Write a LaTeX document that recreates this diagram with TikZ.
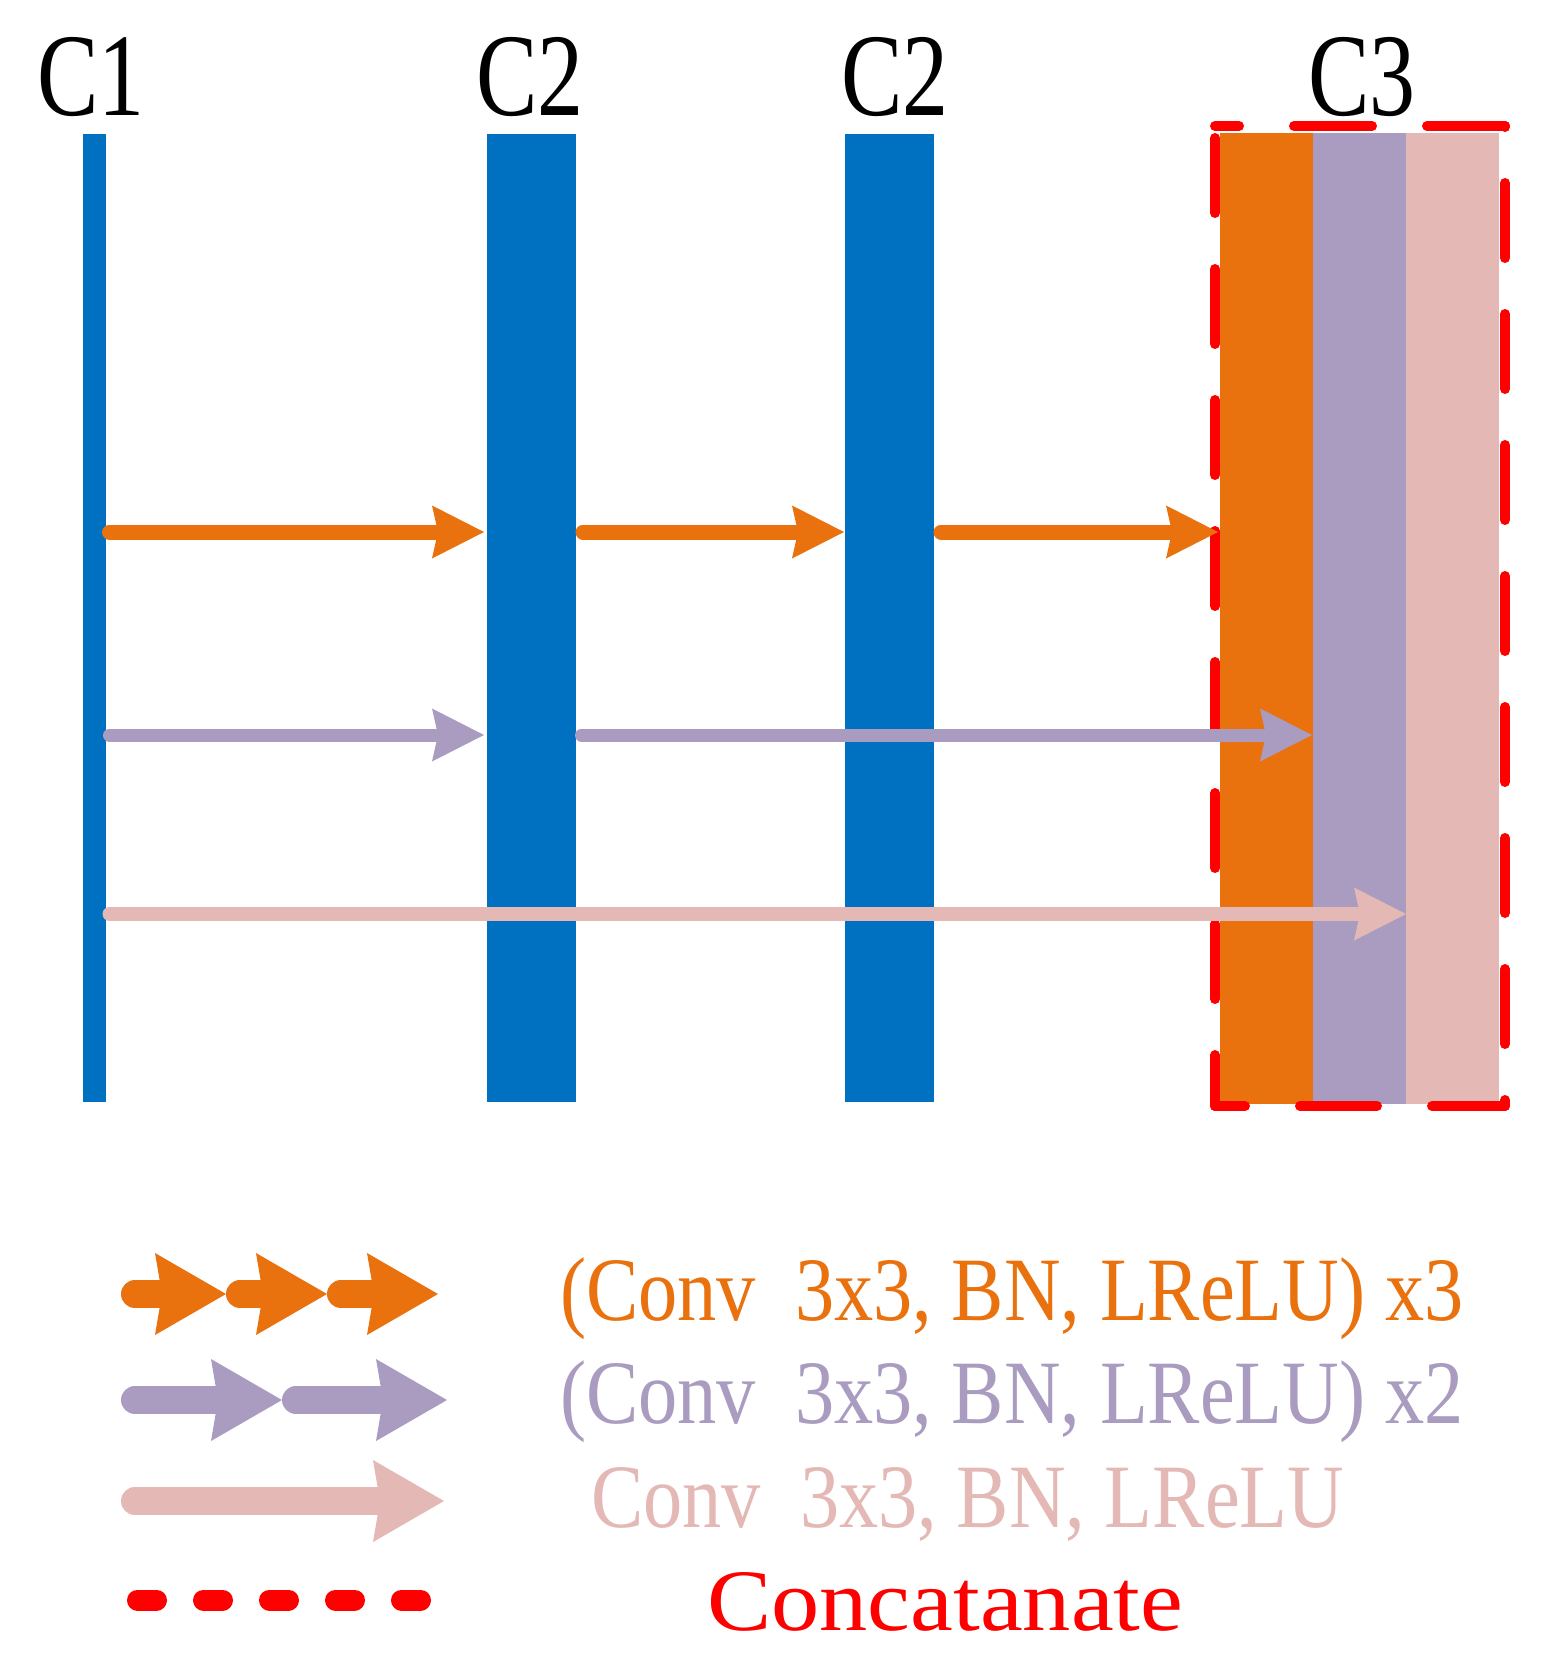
\documentclass[tikz,border=0pt]{standalone}
\usepackage{fontspec}
\setmainfont{Liberation Serif}
\newfontfamily\labfont[FakeStretch=0.78]{Liberation Serif}
\newfontfamily\legfont[FakeStretch=0.865]{Liberation Serif}
\newfontfamily\catfont[FakeStretch=1.1]{Liberation Serif}
\usetikzlibrary{arrows.meta}
\definecolor{barblue}{RGB}{0,112,192}
\definecolor{corange}{RGB}{233,113,14}
\definecolor{cpurple}{RGB}{170,156,192}
\definecolor{cpink}{RGB}{228,185,181}
\definecolor{cred}{RGB}{255,0,0}
\tikzset{
  bar/.style={rectangle, inner sep=0pt, outer sep=0pt, draw=none, fill=barblue, minimum height=968pt},
  blk/.style={rectangle, inner sep=0pt, outer sep=0pt, draw=none, minimum width=93pt, minimum height=971pt},
  conn/.style={line cap=round, -{Stealth[length=52pt,width=53pt,inset=6pt,line width=0pt]}},
  legarrow/.style={line width=28pt, line cap=round, -{Stealth[length=71pt,width=82pt,inset=7pt,line width=0pt]}},
  reddash/.style={draw=cred, line width=10pt, line cap=round},
  lab/.style={inner sep=0pt, anchor=base, font=\labfont\fontsize{118}{118}\selectfont},
  legtext/.style={inner sep=0pt, anchor=base west, font=\legfont\fontsize{90.6}{92}\selectfont},
}
\begin{document}
\begin{tikzpicture}[x=1pt,y=-1pt]
\useasboundingbox[fill=white] (0,0) rectangle (1555,1670);
% bars
\node[bar, minimum width=23pt] (c1) at (94.5,618) {};
\node[bar, minimum width=89pt] (c2a) at (531.5,618) {};
\node[bar, minimum width=89pt] (c2b) at (889.5,618) {};
% C3 block
\node[blk, fill=corange] (o3) at (1266.5,618.5) {};
\node[blk, fill=cpurple] (p3) at (1359.5,618.5) {};
\node[blk, fill=cpink] (k3) at (1452.5,618.5) {};
% dashed concatenate box
\coordinate (dTL) at (1215,126);
\coordinate (dBL) at (1215,1106);
\coordinate (dBR) at (1505,1106);
\coordinate (dTR) at (1505,126);
\draw[reddash, dash pattern=on 75pt off 56pt, dash phase=119pt] (dTL) -- (dBL);
\draw[reddash, dash pattern=on 77pt off 55pt, dash phase=47pt] (dBL) -- (dBR);
\draw[reddash, dash pattern=on 75pt off 56pt, dash phase=69pt] (dBR) -- (dTR);
\draw[reddash, dash pattern=on 78pt off 55pt, dash phase=0pt] (dTR) -- (dTL);
% labels
\node[lab] (l1) at (91,115) {C1};
\node[lab] (l2) at (530,115) {C2};
\node[lab] (l3) at (895,115) {C2};
\node[lab] (l4) at (1362,115) {C3};
% levels
\coordinate (yo) at (0,532);
\coordinate (yp) at (0,735);
\coordinate (yk) at (0,914);
% orange arrows
\draw[conn, corange, line width=15pt] ([xshift=3.5pt]c1.east |- yo) -- ([xshift=-3pt]c2a.west |- yo);
\draw[conn, corange, line width=15pt] ([xshift=7pt]c2a.east |- yo) -- ([xshift=-1pt]c2b.west |- yo);
\draw[conn, corange, line width=15pt] ([xshift=7pt]c2b.east |- yo) -- ([xshift=-2pt]o3.west |- yo);
% purple arrows
\draw[conn, cpurple, line width=13pt] ([xshift=3.5pt]c1.east |- yp) -- ([xshift=-3pt]c2a.west |- yp);
\draw[conn, cpurple, line width=13pt] ([xshift=5.5pt]c2a.east |- yp) -- ([xshift=-1pt]p3.west |- yp);
% pink arrow
\draw[conn, cpink, line width=14pt] ([xshift=3.5pt]c1.east |- yk) -- (k3.west |- yk);
% legend
\coordinate (a1) at (135,1294);
\coordinate (a2) at (226,1294);
\coordinate (a3) at (240,1294);
\coordinate (a4) at (327,1294);
\coordinate (a5) at (341,1294);
\coordinate (a6) at (438,1294);
\draw[legarrow, corange] (a1) -- (a2);
\draw[legarrow, corange] (a3) -- (a4);
\draw[legarrow, corange] (a5) -- (a6);
\coordinate (b1) at (135,1400);
\coordinate (b2) at (282,1400);
\coordinate (b3) at (296,1400);
\coordinate (b4) at (447,1400);
\draw[legarrow, cpurple] (b1) -- (b2);
\draw[legarrow, cpurple] (b3) -- (b4);
\coordinate (k1) at (135,1501);
\coordinate (k2) at (444,1501);
\draw[legarrow, cpink] (k1) -- (k2);
\coordinate (r1) at (137.5,1600);
\coordinate (r2) at (421.5,1600);
\draw[cred, line width=21pt, line cap=round, dash pattern=on 19pt off 47pt] (r1) -- (r2);
\node[legtext, text=corange] (t1) at (560,1320) {(Conv\ \ 3x3, BN, LReLU) x3};
\node[legtext, text=cpurple] (t2) at (560,1423) {(Conv\ \ 3x3, BN, LReLU) x2};
\node[legtext, text=cpink] (t3) at (591,1527) {Conv\ \ 3x3, BN, LReLU};
\node[inner sep=0pt, anchor=base west, text=cred, font=\catfont\fontsize{87.6}{90}\selectfont] (t4) at (707,1630) {Concatanate};
\end{tikzpicture}
\end{document}
